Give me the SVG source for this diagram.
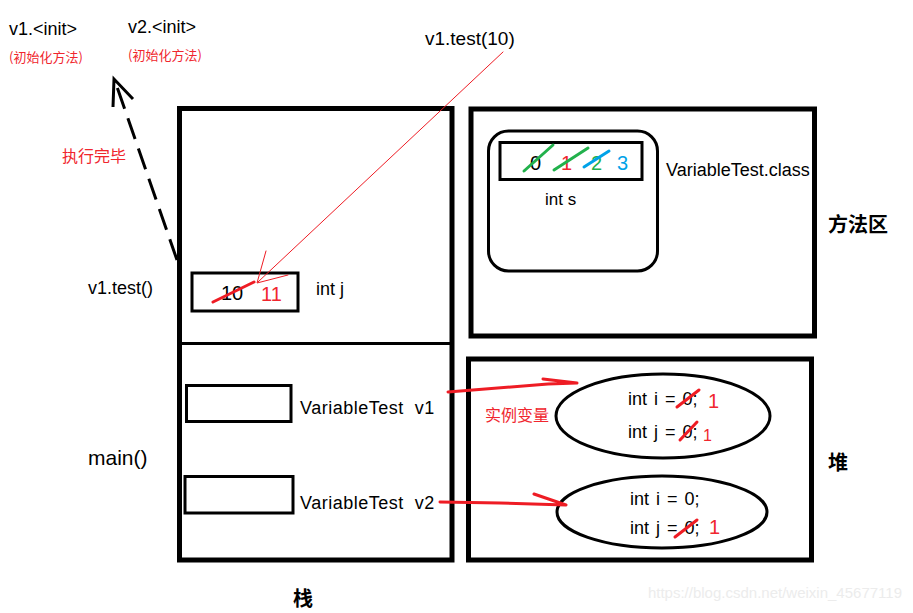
<svg xmlns="http://www.w3.org/2000/svg" width="913" height="613" viewBox="0 0 913 613">
<style>
text{font-family:"Liberation Sans","Noto Sans CJK SC",sans-serif;fill:#000}
.red{fill:#f0262e}
.cn{font-family:"Noto Sans CJK SC",sans-serif}
.bold{font-weight:bold}
.box{fill:none;stroke:#000}
.rl{stroke:#ee1c24;fill:none;stroke-linecap:round;stroke-linejoin:round}
.eq{font-size:18px;word-spacing:2px}
.vt{font-size:18px;letter-spacing:0.5px}
</style>
<rect width="913" height="613" fill="#fff"/>

<g id="top-labels">
<text x="9" y="35" font-size="18">v1.&lt;init&gt;</text>
<text x="9" y="62" font-size="13" class="red cn">(初始化方法)</text>
<text x="128" y="33" font-size="18">v2.&lt;init&gt;</text>
<text x="128" y="60" font-size="13" class="red cn">(初始化方法)</text>
<text x="425" y="45" font-size="19">v1.test(10)</text>
</g>

<g id="stack">
<rect class="box" x="179.5" y="108.5" width="272.5" height="451.5" stroke-width="5"/>
<line x1="180" y1="343.5" x2="452" y2="343.5" stroke="#000" stroke-width="3"/>
<text x="293" y="606" font-size="20" class="cn bold">栈</text>
</g>

<g id="frame-test">
<text x="88" y="294" font-size="18">v1.test()</text>
<rect class="box" x="192" y="273" width="106" height="38" stroke-width="3"/>
<text x="221" y="300" font-size="20">10</text>
<text x="261" y="301" font-size="20" class="red">11</text>
<line class="rl" x1="213" y1="302" x2="254" y2="282" stroke-width="3"/>
<text x="316" y="295" font-size="18">int j</text>
</g>

<g id="frame-main">
<text x="88" y="465" font-size="21">main()</text>
<rect class="box" x="186.5" y="385.5" width="104.5" height="36" stroke-width="3"/>
<text x="300" y="414" class="vt" xml:space="preserve">VariableTest  v1</text>
<rect class="box" x="185" y="476.5" width="108" height="36.5" stroke-width="3"/>
<text x="300" y="509" class="vt" xml:space="preserve">VariableTest  v2</text>
</g>

<g id="method-area">
<rect class="box" x="471" y="109" width="343.5" height="227" stroke-width="5"/>
<rect class="box" x="488.5" y="131" width="169" height="140" rx="20" stroke-width="3"/>
<rect class="box" x="500" y="142.5" width="142" height="37" stroke-width="3"/>
<text x="530" y="170" font-size="20">0</text>
<text x="561" y="170" font-size="20" class="red">1</text>
<text x="591" y="170" font-size="20" style="fill:#22b14c">2</text>
<text x="617" y="170" font-size="20" style="fill:#00a2e8">3</text>
<line x1="524" y1="171" x2="553" y2="145" stroke="#22b14c" stroke-width="3" stroke-linecap="round"/>
<line x1="554" y1="170" x2="588" y2="148" stroke="#22b14c" stroke-width="3" stroke-linecap="round"/>
<line x1="584" y1="167" x2="609" y2="151" stroke="#00a2e8" stroke-width="3" stroke-linecap="round"/>
<text x="545" y="205" font-size="17">int s</text>
<text x="666" y="176" font-size="18">VariableTest.class</text>
<text x="828" y="232" font-size="20" class="cn bold">方法区</text>
</g>

<g id="heap">
<rect class="box" x="468.5" y="359" width="343" height="201" stroke-width="5"/>
<text x="828" y="470" font-size="20" class="cn bold">堆</text>
</g>

<g id="obj-v1">
<ellipse class="box" cx="663" cy="416" rx="107" ry="42" stroke-width="3"/>
<text x="628" y="405" class="eq">int i = 0;</text>
<line class="rl" x1="677" y1="407" x2="699" y2="390" stroke-width="3"/>
<text x="708" y="408" font-size="20" class="red">1</text>
<text x="628" y="438" class="eq">int j = 0;</text>
<line class="rl" x1="680" y1="440" x2="697" y2="422" stroke-width="3"/>
<text x="703" y="441" font-size="16" class="red">1</text>
</g>

<g id="obj-v2">
<ellipse class="box" cx="662" cy="512" rx="105" ry="36" stroke-width="3"/>
<text x="630" y="505" class="eq">int i = 0;</text>
<text x="630" y="534" class="eq">int j = 0;</text>
<line class="rl" x1="675" y1="537" x2="697" y2="520" stroke-width="3"/>
<text x="709" y="534" font-size="20" class="red">1</text>
</g>

<g id="connectors">
<line class="rl" x1="503" y1="52" x2="258" y2="282" stroke-width="1"/>
<polyline class="rl" points="266,251 257,283 288,275" stroke-width="1"/>
<path class="rl" d="M448,392 L548,384 L577,383 M543,379 L577,383" stroke-width="3"/>
<path class="rl" d="M440,502 L500,503 L566,505 M534,494 L566,505" stroke-width="3"/>
<line x1="177" y1="260" x2="116" y2="84" stroke="#000" stroke-width="3" stroke-dasharray="22,10"/>
<polyline points="113,107 114,79 133,99" fill="none" stroke="#000" stroke-width="3"/>
</g>

<g id="labels">
<text x="485" y="421" font-size="16" class="red cn">实例变量</text>
<text x="62" y="162" font-size="16" class="red cn">执行完毕</text>
<text x="902" y="598" font-size="15" text-anchor="end" style="fill:#ececec">https://blog.csdn.net/weixin_45677119</text>
</g>
</svg>
